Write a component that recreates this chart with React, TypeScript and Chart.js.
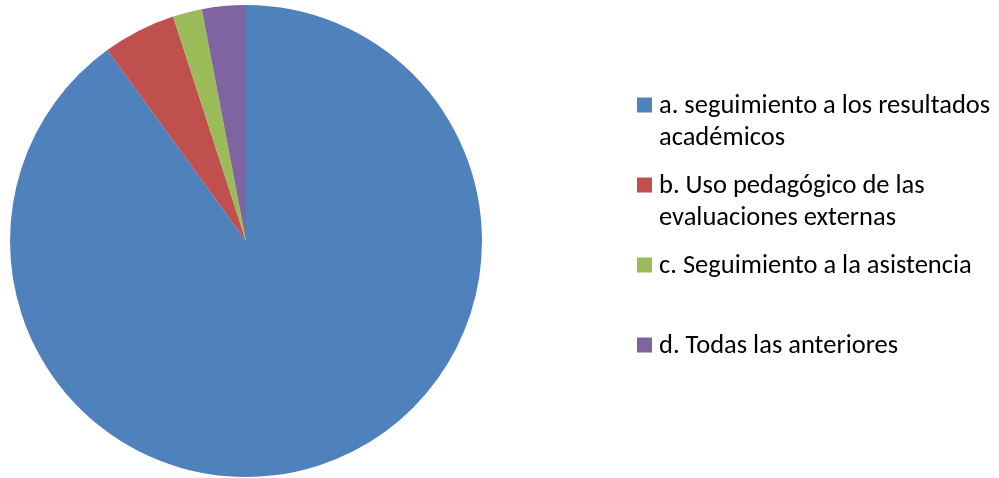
import React, { useEffect, useRef } from "react";
import { Chart, registerables } from "chart.js";

Chart.register(...registerables);

const categories: string[] = [
  "a. seguimiento a los resultados\nacadémicos",
  "b. Uso pedagógico de las\nevaluaciones externas",
  "c. Seguimiento a la asistencia",
  "d. Todas las anteriores",
];
const values: number[] = [90, 5, 2, 3];
const colors: string[] = ["#4F81BD", "#C0504D", "#9BBB59", "#8064A2"];

const FONT = "Carlito, Lato, 'Liberation Sans', sans-serif";

const legendPlugin = {
  id: "sideLegend",
  afterDraw(chart: any) {
    const ctx = chart.ctx as CanvasRenderingContext2D;
    const labels = chart.data.labels as string[];
    const bg = chart.data.datasets[0].backgroundColor as string[];
    const boxX = 637;
    const boxSize = 15;
    const textX = 659;
    const firstY = 105;
    const slot = 80;
    const lineH = 32;
    ctx.save();
    ctx.font = `26.5px ${FONT}`;
    ctx.textBaseline = "middle";
    ctx.fillStyle = "#000";
    labels.forEach((lab, i) => {
      const y0 = firstY + slot * i;
      ctx.fillStyle = bg[i];
      ctx.fillRect(boxX, y0 - boxSize / 2, boxSize, boxSize);
      ctx.fillStyle = "#000";
      lab.split("\n").forEach((line, j) => {
        ctx.fillText(line, textX, y0 + j * lineH + 1);
      });
    });
    ctx.restore();
  },
};

export default function App() {
  const ref = useRef<HTMLCanvasElement | null>(null);
  useEffect(() => {
    if (!ref.current) return;
    const chart = new Chart(ref.current, {
      type: "pie",
      data: {
        labels: categories,
        datasets: [
          {
            data: values,
            backgroundColor: colors,
            borderWidth: 0,
          },
        ],
      },
      options: {
        animation: false,
        responsive: true,
        maintainAspectRatio: false,
        layout: { padding: { left: 10, top: 5, right: 517, bottom: 1 } },
        plugins: {
          legend: { display: false },
          tooltip: { enabled: false },
        },
      },
      plugins: [legendPlugin],
    });
    return () => chart.destroy();
  }, []);
  return (
    <div
      style={{
        position: "absolute",
        left: 0,
        top: 0,
        width: 999,
        height: 478,
        background: "#fff",
      }}
    >
      <canvas ref={ref} />
    </div>
  );
}
